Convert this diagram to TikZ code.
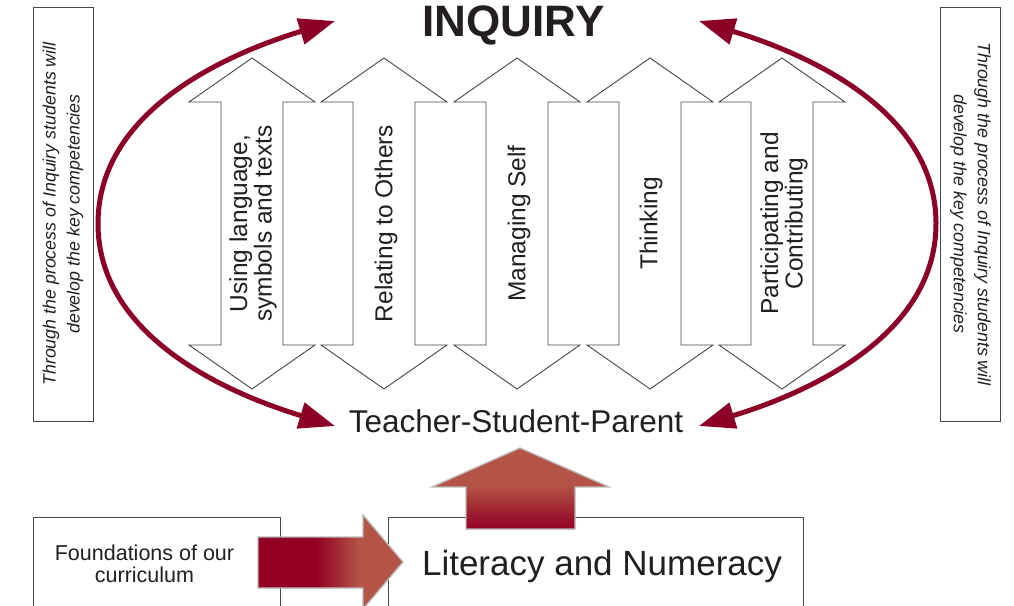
\documentclass[tikz,border=0pt]{standalone}
\usepackage{fontspec}
\setmainfont{Liberation Sans}
\usetikzlibrary{arrows.meta}
\definecolor{inqred}{RGB}{140,0,40}
\definecolor{txt}{RGB}{35,31,32}
\definecolor{boxline}{RGB}{70,70,70}
\definecolor{ared}{RGB}{146,0,36}
\definecolor{alight}{RGB}{180,84,70}
\pgfdeclarehorizontalshading{rshade}{100bp}{color(0bp)=(ared); color(25bp)=(ared); color(45bp)=(ared); color(60bp)=(alight); color(75bp)=(alight); color(100bp)=(alight)}
\pgfdeclareverticalshading{ushade}{100bp}{color(0bp)=(ared); color(25bp)=(ared); color(52bp)=(alight); color(75bp)=(alight); color(100bp)=(alight)}
\begin{document}
\begin{tikzpicture}[x=1pt,y=1pt,
  dblline/.style={draw=boxline, line width=0.9pt, fill=white},
  lbl/.style={rotate=90, align=center, text=txt, font=\fontsize{24.5}{24.5}\selectfont, inner sep=0pt},
  sidebox/.style={draw=boxline, line width=0.9pt, minimum width=414, minimum height=60, align=center, text=txt, inner sep=0pt, font=\itshape\fontsize{17.8}{24}\selectfont},
  boxl/.style={draw=boxline, line width=0.9pt},
  arc/.style={draw=inqred, line width=5pt, {Triangle[length=36pt,width=26pt]}-{Triangle[length=36pt,width=26pt]}},
  bevel/.style={draw=gray!55, line width=1.3pt, line join=miter},
  dbl/.pic={\path[dblline] (0,165.5) -- (63,121.5) -- (31,121.5) -- (31,-121.5) -- (63,-121.5) -- (0,-165.5) -- (-63,-121.5) -- (-31,-121.5) -- (-31,121.5) -- (-63,121.5) -- cycle;}
]
\useasboundingbox (0,0) rectangle (1014,605);
\fill[white] (0,0) rectangle (1014,605);

% side boxes
\node[sidebox, rotate=90] (sideL) at (63,391) {Through the process of Inquiry students will\\develop the key competencies};
\node[sidebox, rotate=-90] (sideR) at (970.5,391) {Through the process of Inquiry students will\\develop the key competencies};

% double arrows
\foreach \cx in {252,384,517,650,782} { \pic at (\cx,381.5) {dbl}; }
\node[lbl] (c1) at (253,381.5) {Using language,\\symbols and texts};
\node[lbl] (c2) at (386,381.5) {Relating to Others};
\node[lbl] (c3) at (519,381.5) {Managing Self};
\node[lbl] (c4) at (651,381.5) {Thinking};
\node[lbl] (c5) at (784,381.5) {Participating and\\Contributing};

% titles
\node[anchor=base, text=txt, font=\bfseries\fontsize{44}{44}\selectfont, inner sep=0pt] (inq) at (513.5,568) {INQUIRY};
\node[anchor=base, text=txt, font=\fontsize{31.5}{31.5}\selectfont, inner sep=0pt] (tsp) at (516,172) {Teacher-Student-Parent};

% curved arrows
\coordinate (ltop) at (335,584);
\coordinate (lmid) at (98,381.5);
\coordinate (lbot) at (335,179);
\coordinate (rtop) at (699,584);
\coordinate (rmid) at (936,381.5);
\coordinate (rbot) at (699,179);
\draw[arc] (ltop) .. controls (220,549) and (98,491.5) .. (lmid) .. controls (98,271.5) and (220,214) .. (lbot);
\draw[arc] (rtop) .. controls (814,549) and (936,491.5) .. (rmid) .. controls (936,271.5) and (814,214) .. (rbot);

% bottom boxes
\draw[boxl] (33,-2) -- (33,88) -- (280,88) -- (280,-2);
\draw[boxl] (388,-2) -- (388,88) -- (803,88) -- (803,-2);
\node[align=center, text=txt, font=\fontsize{21.5}{22}\selectfont, inner sep=0pt] (found) at (144.5,41) {Foundations of our\\curriculum};
\node[anchor=base, text=txt, font=\fontsize{35}{35}\selectfont, inner sep=0pt] (lit) at (602,30) {Literacy and Numeracy};

% 3D arrows
\path[shading=rshade] (258,68) -- (363,68) -- (363,90) -- (403,43) -- (363,-4) -- (363,17) -- (258,17) -- cycle;
\draw[bevel] (258,68) -- (363,68) -- (363,90) -- (403,43) -- (363,-4) -- (363,17) -- (258,17) -- cycle;
\path[shading=ushade] (466,76) -- (466,118) -- (432,118) -- (520,157) -- (609,118) -- (575,118) -- (575,76) -- cycle;
\draw[bevel] (466,76) -- (466,118) -- (432,118) -- (520,157) -- (609,118) -- (575,118) -- (575,76) -- cycle;
\end{tikzpicture}
\end{document}
